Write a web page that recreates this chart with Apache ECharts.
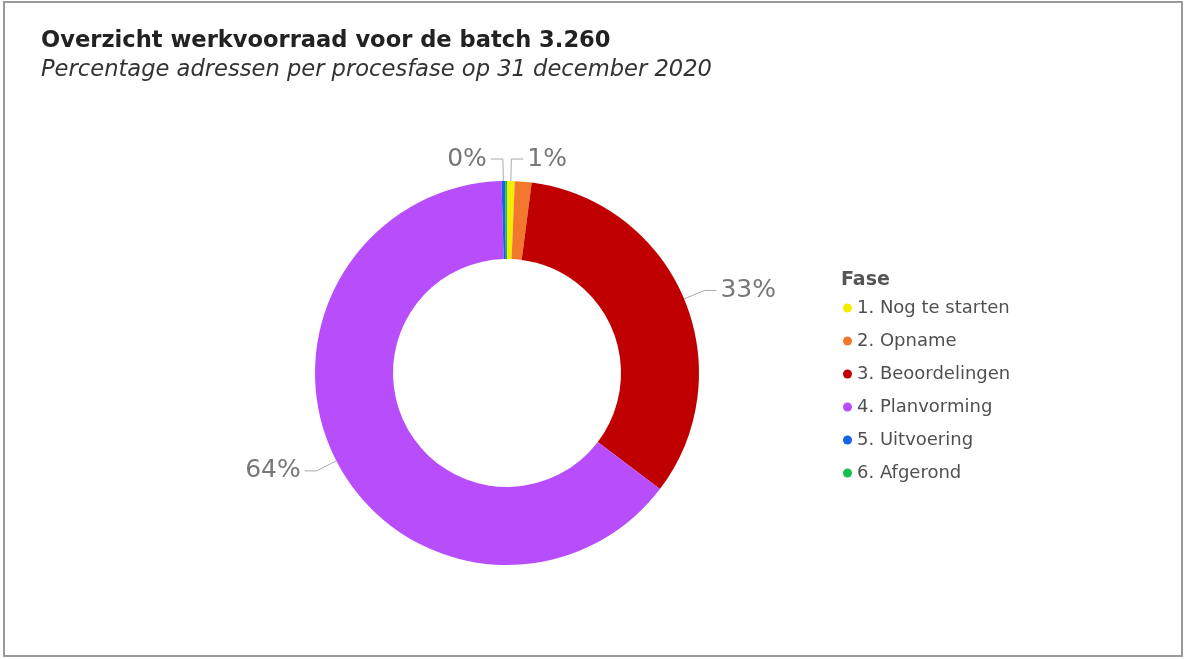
<!DOCTYPE html>
<html>
<head>
<meta charset="utf-8">
<script src="https://cdn.jsdelivr.net/npm/echarts@6/dist/echarts.min.js"></script>
<style>
    html, body { margin: 0; padding: 0; background: #fff; }
    #werkvoorraad-donut { width: 1185px; height: 659px; }
</style>
</head>
<body>
<div id="werkvoorraad-donut"></div>
<script>
    // aantal adressen per fase (batch 3.260)
    let fases = ["1. Nog te starten", "2. Opname", "3. Beoordelingen", "4. Planvorming", "5. Uitvoering", "6. Afgerond"];
    let aantallen = [21, 46, 1085, 2093, 10, 5];
    let kleuren = ["#F2EE00", "#F2782E", "#C00000", "#B84DFB", "#1664E6", "#17BF4E"];
    // Power BI laat bij kleine stukken niet elk label zien
    let toonLabel = [true, false, true, true, true, false];

    let chart = echarts.init(document.getElementById("werkvoorraad-donut"));

    let seriesData = [];
    for (let i in fases) {
        seriesData.push({
            name: fases[i],
            value: aantallen[i],
            itemStyle: { color: kleuren[i] },
            label: { show: toonLabel[i] },
            labelLine: { show: toonLabel[i] }
        });
    }

    chart.setOption({
        textStyle: { fontFamily: "DejaVu Sans" },
        title: [
            {
                text: "Overzicht werkvoorraad voor de batch 3.260",
                subtext: "Percentage adressen per procesfase op 31 december 2020",
                left: 36,
                top: 25,
                itemGap: 6,
                textStyle: { fontSize: 22.6, fontWeight: "bold", color: "#222" },
                subtextStyle: { fontSize: 22.6, fontStyle: "italic", color: "#333" }
            },
            {
                text: "Fase",
                left: 836,
                top: 266,
                textStyle: { fontSize: 19, fontWeight: "bold", color: "#555" }
            }
        ],
        legend: {
            orient: "vertical",
            left: 838,
            top: 294,
            icon: "circle",
            itemWidth: 9,
            itemHeight: 9,
            itemGap: 15,
            data: fases,
            textStyle: { fontSize: 18, lineHeight: 18, color: "#505050", padding: [0, 0, 0, 0] }
        },
        graphic: [
            {
                type: "rect",
                shape: { x: 4, y: 2, width: 1178, height: 654 },
                style: { fill: "none", stroke: "#9a9a9a", lineWidth: 2 },
                silent: true
            }
        ],
        series: [
            {
                name: "Fase",
                type: "pie",
                center: [507, 373],
                radius: [114, 192],
                startAngle: 90,
                clockwise: true,
                avoidLabelOverlap: false,
                label: {
                    fontSize: 25,
                    color: "#777",
                    distanceToLabelLine: 4,
                    formatter: function (p) {
                        return Math.round(p.percent) + "%";
                    }
                },
                labelLine: {
                    length: 22,
                    length2: 12,
                    lineStyle: { color: "#aaa", width: 1 }
                },
                data: seriesData
            }
        ]
    });
</script>
</body>
</html>
